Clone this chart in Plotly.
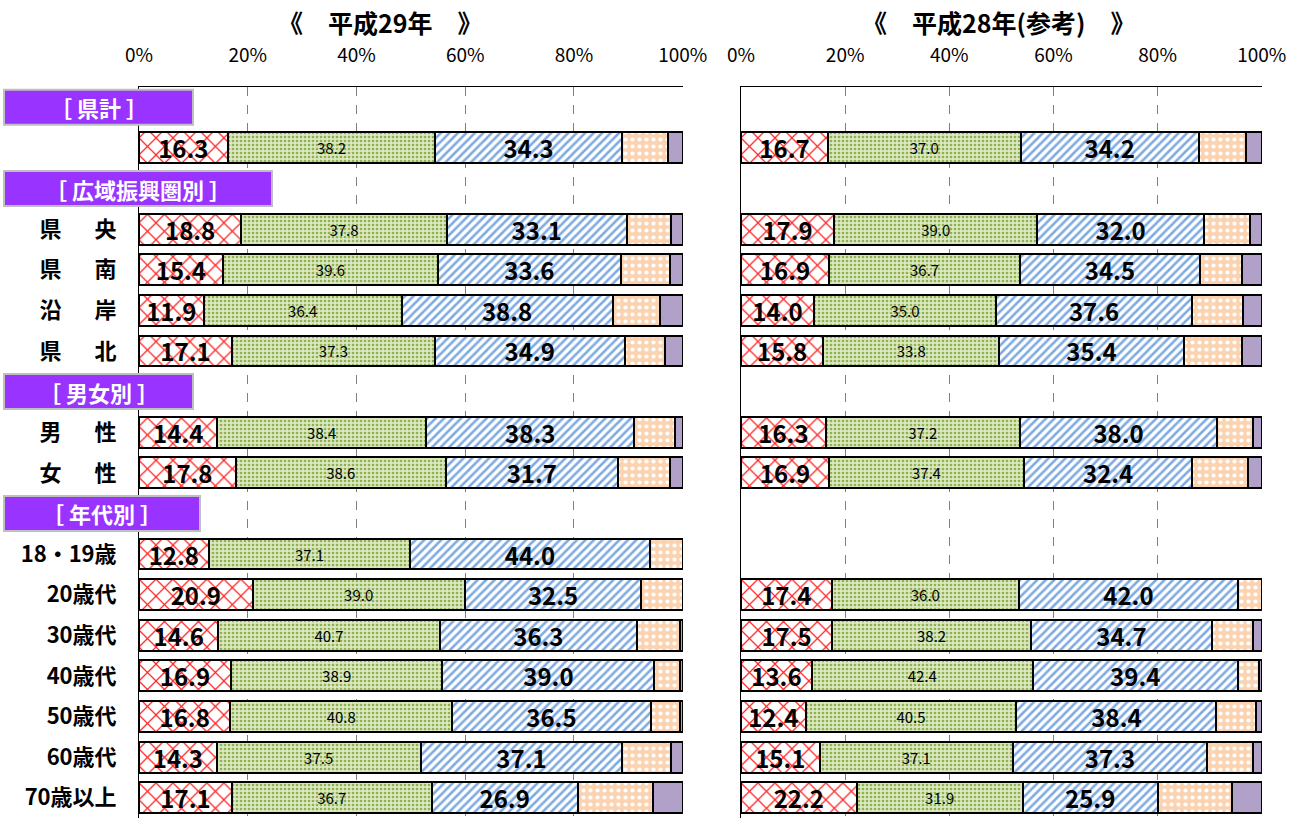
import plotly.graph_objects as go

# ---------------- data ----------------
rows = ["[ 県計 ]", "県計", "[ 広域振興圏別 ]", "県央", "県南", "沿岸", "県北",
        "[ 男女別 ]", "男性", "女性", "[ 年代別 ]",
        "18・19歳", "20歳代", "30歳代", "40歳代", "50歳代", "60歳代", "70歳以上"]
row_labels = ["", "", "", "県\u3000\u2002央", "県\u3000\u2002南", "沿\u3000\u2002岸", "県\u3000\u2002北",
              "", "男\u3000\u2002性", "女\u3000\u2002性", "",
              "18・19歳", "20歳代", "30歳代", "40歳代", "50歳代", "60歳代", "70歳以上"]
headers = ["[ 県計 ]", "[ 広域振興圏別 ]", "[ 男女別 ]", "[ 年代別 ]"]
header_texts = ["［ 県計 ］", "［ 広域振興圏別 ］", "［ 男女別 ］", "［ 年代別 ］"]

data_rows = ["県計", "県央", "県南", "沿岸", "県北", "男性", "女性",
             "18・19歳", "20歳代", "30歳代", "40歳代", "50歳代", "60歳代", "70歳以上"]

# 平成29年
h29_s1 = [16.3, 18.8, 15.4, 11.9, 17.1, 14.4, 17.8, 12.8, 20.9, 14.6, 16.9, 16.8, 14.3, 17.1]
h29_s2 = [38.2, 37.8, 39.6, 36.4, 37.3, 38.4, 38.6, 37.1, 39.0, 40.7, 38.9, 40.8, 37.5, 36.7]
h29_s3 = [34.3, 33.1, 33.6, 38.8, 34.9, 38.3, 31.7, 44.0, 32.5, 36.3, 39.0, 36.5, 37.1, 26.9]
h29_s4 = [8.5, 8.1, 9.1, 8.8, 7.5, 7.4, 9.6, 6.1, 7.6, 7.9, 4.7, 5.4, 8.9, 13.8]
h29_s5 = [2.7, 2.2, 2.3, 4.1, 3.2, 1.5, 2.3, None, None, 0.5, 0.5, 0.5, 2.2, 5.5]

# 平成28年（参考）
h28_s1 = [16.7, 17.9, 16.9, 14.0, 15.8, 16.3, 16.9, None, 17.4, 17.5, 13.6, 12.4, 15.1, 22.2]
h28_s2 = [37.0, 39.0, 36.7, 35.0, 33.8, 37.2, 37.4, None, 36.0, 38.2, 42.4, 40.5, 37.1, 31.9]
h28_s3 = [34.2, 32.0, 34.5, 37.6, 35.4, 38.0, 32.4, None, 42.0, 34.7, 39.4, 38.4, 37.3, 25.9]
h28_s4 = [9.0, 8.9, 8.1, 9.8, 11.2, 6.8, 10.7, None, 4.6, 7.9, 4.0, 7.6, 8.9, 14.3]
h28_s5 = [3.1, 2.2, 3.8, 3.6, 3.8, 1.7, 2.6, None, None, 1.7, 0.6, 1.1, 1.6, 5.7]

x_ticks = [0, 20, 40, 60, 80, 100]
x_ticktext = ["0%", "20%", "40%", "60%", "80%", "100%"]

titles = ["《　平成29年　》", "《　平成28年(参考)　》"]

# ---------------- styles ----------------
FONT = "Noto Sans CJK JP"
W, H = 1301, 818

seg_styles = [
    dict(pattern=dict(shape="x", fgcolor="#ff2a2a", bgcolor="white", size=12, solidity=0.2, fillmode="replace"),
         color="white", text=True, tsize=24, bold=True),
    dict(pattern=dict(shape=".", fgcolor="#8fb24f", bgcolor="#dbe8c2", size=4, solidity=0.35, fillmode="replace"),
         color="#dbe8c2", text=True, tsize=15, bold=False),
    dict(pattern=dict(shape="/", fgcolor="#7eaae2", bgcolor="white", size=6, solidity=0.42, fillmode="replace"),
         color="white", text=True, tsize=24, bold=True),
    dict(pattern=dict(shape=".", fgcolor="white", bgcolor="#fbd3b1", size=7, solidity=0.28, fillmode="replace"),
         color="#fbd3b1", text=False, tsize=12, bold=False),
    dict(pattern=None, color="#b1a0c7", text=False, tsize=12, bold=False),
]

fig = go.Figure()

panels = [
    ("x", "y", [h29_s1, h29_s2, h29_s3, h29_s4, h29_s5]),
    ("x2", "y2", [h28_s1, h28_s2, h28_s3, h28_s4, h28_s5]),
]

for xa, ya, series in panels:
    for k, vals in enumerate(series):
        st = seg_styles[k]
        marker = dict(color=st["color"], line=dict(color="black", width=2))
        if st["pattern"] is not None:
            marker["pattern"] = st["pattern"]
        if st["text"]:
            kw = dict(
                text=[("" if v is None else f"{v:.1f}") for v in vals],
                textposition="inside",
                insidetextanchor="middle",
                textangle=0,
                constraintext="none",
                textfont=dict(family=FONT, size=st["tsize"], color="black",
                              weight=700 if st["bold"] else 400),
            )
        else:
            kw = dict(textposition="none")
        fig.add_trace(go.Bar(
            y=data_rows, x=vals, orientation="h",
            xaxis=xa, yaxis=ya, marker=marker, hoverinfo="skip",
            showlegend=False, **kw))

x1_dom = [139 / W, 683 / W]
x2_dom = [741 / W, 1262 / W]
y_dom = [0, 1 - 87 / H]

xcommon = dict(
    range=[0, 100.05], side="top", tickvals=x_ticks, ticktext=x_ticktext,
    showgrid=True, gridcolor="#7f7f7f", griddash="dash", gridwidth=1,
    showline=True, linecolor="black", linewidth=1, zeroline=False,
    ticks="outside", ticklen=16, tickcolor="rgba(0,0,0,0)", automargin=False,
    tickfont=dict(family=FONT, size=19, color="black"), fixedrange=True,
)
ycommon = dict(
    categoryorder="array", categoryarray=rows, range=[17.5, -0.5],
    showgrid=False, zeroline=False, showline=True, linecolor="black", linewidth=1,
    domain=y_dom, fixedrange=True, automargin=False,
)

fig.update_layout(
    width=W, height=H, margin=dict(l=0, r=0, t=0, b=0, autoexpand=False),
    paper_bgcolor="white", plot_bgcolor="white",
    barmode="stack", bargap=0.24, showlegend=False,
    xaxis=dict(domain=x1_dom, anchor="y", **xcommon),
    xaxis2=dict(domain=x2_dom, anchor="y2", **xcommon),
    yaxis=dict(anchor="x", tickmode="array", tickvals=rows, ticktext=row_labels,
               ticks="outside", ticklen=17, tickcolor="rgba(0,0,0,0)",
               tickfont=dict(family=FONT, size=22, color="black", weight=700),
               **ycommon),
    yaxis2=dict(anchor="x2", showticklabels=False, **ycommon),
)

# header boxes
for h, t in zip(headers, header_texts):
    x1 = 272 if "広域" in h else (200 if "年代" in h else 193)
    fig.add_shape(type="rect", xref="paper", yref="y", x0=4 / W, x1=x1 / W,
                  y0=rows.index(h) - 0.43, y1=rows.index(h) + 0.43,
                  fillcolor="#9933ff", line=dict(color="#bfbfbf", width=2), layer="above")
    fig.add_annotation(xref="paper", yref="y", x=(4 + x1) / 2 / W, y=h, text=t,
                       showarrow=False, xanchor="center", yanchor="middle",
                       font=dict(family=FONT, size=22, color="white", weight=700))

# titles
for t, cx in zip(titles, [380, 998]):
    fig.add_annotation(xref="paper", yref="paper", x=cx / W, y=1 - 22 / H, text=t,
                       showarrow=False, xanchor="center", yanchor="middle",
                       font=dict(family=FONT, size=25, color="black", weight=700))

fig.write_html(
    "out.html",
    config={"displayModeBar": False},
    post_script="document.body.style.margin='0';document.body.style.padding='0';document.body.style.overflow='hidden';",
)
